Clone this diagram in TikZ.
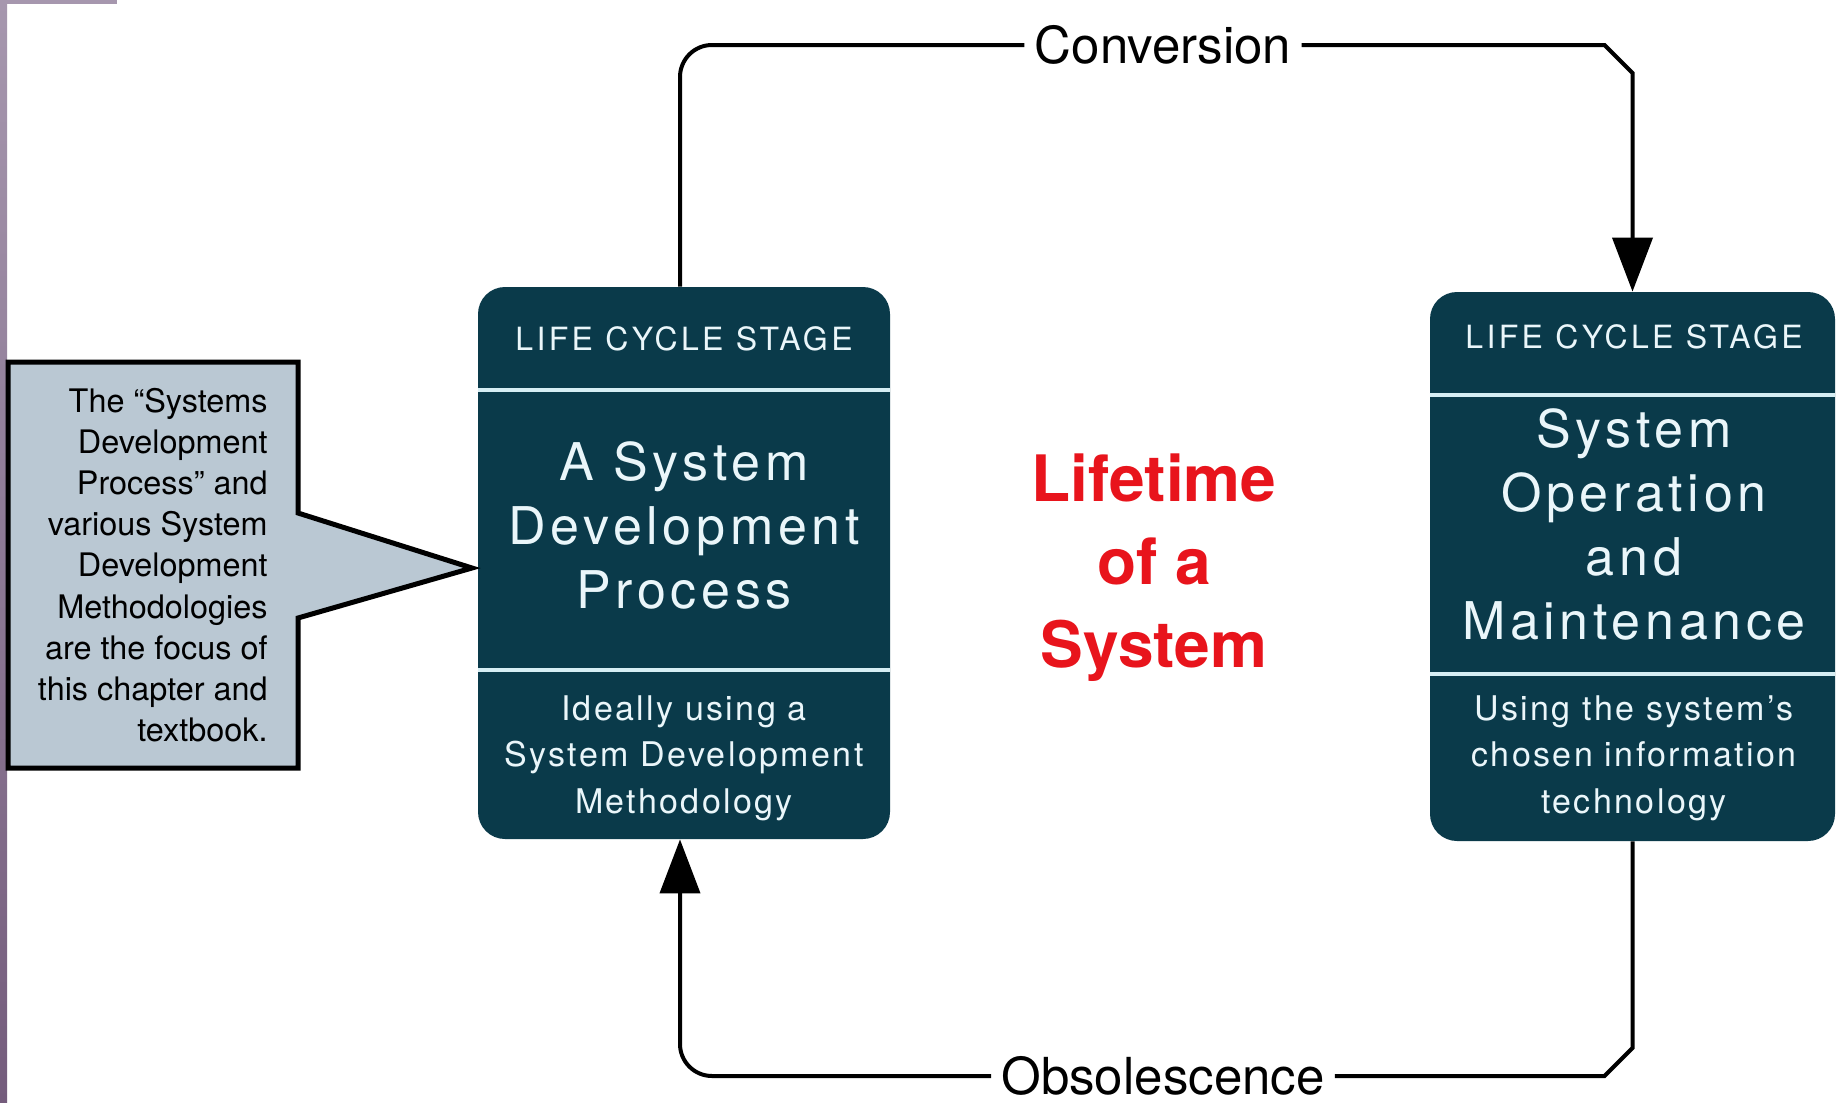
\documentclass[tikz,border=0pt]{standalone}
\usepackage{fontspec}
\setmainfont{TeX Gyre Heros}
\newfontfamily\headfont[LetterSpace=10.5]{TeX Gyre Heros}
\newfontfamily\titlefont[LetterSpace=9]{TeX Gyre Heros}
\newfontfamily\notefont[LetterSpace=7]{TeX Gyre Heros}
\usetikzlibrary{arrows.meta,calc}

\definecolor{stagefill}{HTML}{0A3A4A}
\definecolor{stagetext}{HTML}{EAF6FA}
\definecolor{stagerule}{HTML}{D6EEF4}
\definecolor{calloutfill}{HTML}{BAC8D3}
\definecolor{lifered}{HTML}{E8141C}
\definecolor{stripetop}{HTML}{A697AE}
\definecolor{stripebot}{HTML}{745C7C}

\tikzset{
  stage/.style={fill=stagefill, rounded corners=13.5pt, inner sep=0pt},
  stagehead/.style={text=stagetext, font=\headfont\fontsize{16}{19}\selectfont, inner sep=0pt},
  stagetitle/.style={text=stagetext, align=center, font=\titlefont\fontsize{26}{32}\selectfont, inner sep=0pt},
  stagenote/.style={text=stagetext, align=center, font=\notefont\fontsize{17}{23.3}\selectfont, inner sep=0pt},
  stagesep/.style={draw=stagerule, line width=2pt},
  conn/.style={draw=black, line width=2pt},
  tip/.style={-{Triangle[length=27pt,width=20pt]}},
  flowlabel/.style={fill=white, inner xsep=5pt, inner ysep=1pt, font=\fontsize{25.5}{30}\selectfont},
  callout/.style={draw=black, fill=calloutfill, line width=2.5pt, line join=miter},
  callouttext/.style={align=right, inner sep=0pt, font=\fontsize{16.2}{20.6}\selectfont},
  lifetext/.style={text=lifered, align=center, inner sep=0pt, font=\bfseries\fontsize{32}{41.5}\selectfont}
}

\begin{document}
\begin{tikzpicture}[x=0.5pt,y=-0.5pt]
  % page area
  \fill[white] (0,0) rectangle (1837,1103);
  \useasboundingbox (0,0) rectangle (1837,1103);
  \shade[top color=stripetop, bottom color=stripebot] (0,0) rectangle (7,1103);
  \fill[stripetop] (0,0) rectangle (117,4);

  % the two life cycle stages
  \node[stage, minimum width=206pt, minimum height=276pt] (sdp) at (684,563) {};
  \node[stage, minimum width=202.5pt, minimum height=274.5pt] (som) at (1632.5,566.5) {};

  \draw[stagesep] (sdp.west |- 0,390) -- (sdp.east |- 0,390);
  \draw[stagesep] (sdp.west |- 0,670) -- (sdp.east |- 0,670);
  \draw[stagesep] (som.west |- 0,395) -- (som.east |- 0,395);
  \draw[stagesep] (som.west |- 0,674) -- (som.east |- 0,674);

  \node[stagehead] (sdphead) at (684,339) {LIFE CYCLE STAGE};
  \node[stagetitle] (sdptitle) at (684,525) {A System\\Development\\Process};
  \node[stagenote] (sdpnote) at (684,758) {Ideally using a\\System Development\\Methodology};

  \node[stagehead] (somhead) at (1634,337) {LIFE CYCLE STAGE};
  \node[stagetitle] (somtitle) at (1634,524) {System\\Operation\\and\\Maintenance};
  \node[stagenote] (somnote) at (1634,758) {Using the system’s\\chosen information\\technology};

  % centre caption
  \node[lifetext] (life) at (1154,568) {Lifetime\\of a\\System};

  % transitions between the stages
  \node[flowlabel] (conv) at (1163,45) {Conversion};
  \node[flowlabel] (obs) at (1163,1076) {Obsolescence};

  \coordinate (sdptop) at ($(sdp.north)+(-4,0)$);
  \coordinate (sdpbot) at ($(sdp.south)+(-4,0)$);
  \draw[conn, rounded corners=16pt] (sdptop) |- (conv.west);
  \draw[conn, tip] (conv.east) -- ($(som.north |- conv.east)+(-28,0)$) -- ++(28,28) -- (som.north);
  \draw[conn] (som.south) -- ($(som.south |- obs.east)+(0,-28)$) -- ++(-28,28) -- (obs.east);
  \draw[conn, rounded corners=16pt, tip] (obs.west) -| (sdpbot);

  % explanatory callout
  \draw[callout] (8,362) -- (298,362) -- (298,513) -- (472,568) -- (298,618)
    -- (298,768) -- (8,768) -- cycle;
  \node[callouttext, anchor=east] (note) at (268,565)
    {The “Systems\\Development\\Process” and\\various System\\Development\\Methodologies\\are the focus of\\this chapter and\\textbook.};
\end{tikzpicture}
\end{document}
